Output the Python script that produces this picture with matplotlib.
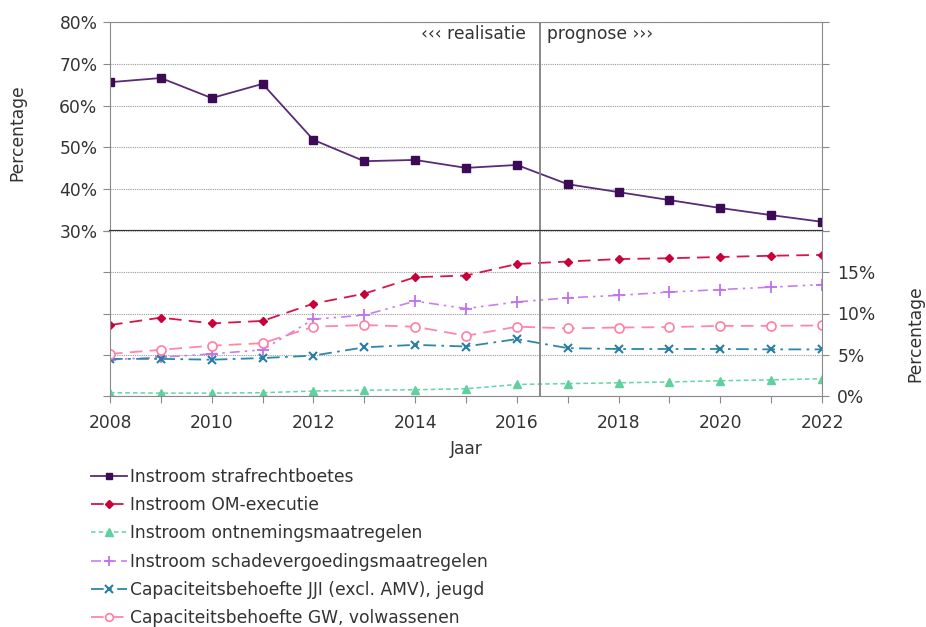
import matplotlib
matplotlib.use("Agg")
import matplotlib.pyplot as plt
from matplotlib.ticker import FuncFormatter, MultipleLocator

plt.rcParams['font.family'] = ['DejaVu Sans']

years = list(range(2008, 2023))

strafrechtboetes = [65.6, 66.6, 61.8, 65.2, 51.8, 46.7, 47.0, 45.1, 45.8,
                    41.2, 39.3, 37.4, 35.5, 33.8, 32.2]
om_executie = [8.6, 9.5, 8.8, 9.1, 11.2, 12.4, 14.4, 14.6, 16.0,
               16.3, 16.6, 16.7, 16.85, 17.0, 17.1]
ontneming = [0.4, 0.35, 0.35, 0.4, 0.6, 0.7, 0.76, 0.88, 1.4,
             1.5, 1.6, 1.7, 1.85, 1.95, 2.1]
schadevergoeding = [4.4, 4.7, 5.1, 5.6, 9.3, 9.8, 11.5, 10.6, 11.4,
                    11.9, 12.2, 12.6, 12.9, 13.2, 13.5]
jji_jeugd = [4.5, 4.5, 4.4, 4.6, 4.9, 5.9, 6.2, 6.0, 6.9,
             5.8, 5.7, 5.7, 5.7, 5.65, 5.65]
gw_volwassenen = [5.1, 5.6, 6.1, 6.4, 8.4, 8.6, 8.4, 7.3, 8.4,
                  8.2, 8.3, 8.35, 8.5, 8.5, 8.55]

labels = [
    "Instroom strafrechtboetes",
    "Instroom OM-executie",
    "Instroom ontnemingsmaatregelen",
    "Instroom schadevergoedingsmaatregelen",
    "Capaciteitsbehoefte JJI (excl. AMV), jeugd",
    "Capaciteitsbehoefte GW, volwassenen",
]

split_year = 2016.45
txt = '#333333'
spine_c = '#8a8a8a'
fs = 12.3

fig = plt.figure(figsize=(9.26, 6.27), dpi=100)
W, H = 926, 627
x0, x1 = 110, 822
ax_top = fig.add_axes([x0 / W, 1 - 231 / H, (x1 - x0) / W, (231 - 22) / H])
ax_bot = fig.add_axes([x0 / W, 1 - 396 / H, (x1 - x0) / W, (396 - 231) / H])

pct = FuncFormatter(lambda v, p: f"{v:.0f}%")

# --- upper panel: 30%-80% ---
h1, = ax_top.plot(years, strafrechtboetes, color='#5a2a78', lw=1.3,
                  marker='s', ms=5.5, mfc='#3d0a55', mec='#3d0a55')
ax_top.set_xlim(2008, 2022)
ax_top.set_ylim(30, 80)
ax_top.yaxis.set_major_locator(MultipleLocator(10))
ax_top.yaxis.set_major_formatter(pct)
ax_top.tick_params(axis='y', which='both', direction='out', length=5,
                   color=spine_c, labelsize=fs, labelcolor=txt,
                   right=True, labelright=False, pad=4)
ax_top.tick_params(axis='x', bottom=False, labelbottom=False)
ax_top.grid(axis='y', color='#9a9a9a', ls=(0, (1, 1)), lw=0.8)
for s in ('left', 'right', 'top'):
    ax_top.spines[s].set_color(spine_c)
ax_top.spines['bottom'].set_color('#333333')
ax_top.spines['bottom'].set_linewidth(1.6)
ax_top.set_ylabel("Percentage", fontsize=fs, color=txt, labelpad=24)
ax_top.yaxis.label.set_y(0.47)
ax_top.axvline(split_year, color='#808080', lw=1.3)
ax_top.text(split_year - 0.27, 77.2, "‹‹‹ realisatie", ha='right', va='center',
            fontsize=fs, color=txt)
ax_top.text(split_year + 0.15, 77.2, "prognose ›››", ha='left', va='center',
            fontsize=fs, color=txt)

# --- lower panel: 0%-20% ---
h2, = ax_bot.plot(years, om_executie, color='#d6154a', lw=1.3,
                  ls=(0, (7, 4)), marker='D', ms=4.5, mfc='#c8003a', mec='#c8003a')
h3, = ax_bot.plot(years, ontneming, color='#62d6a4', lw=1.1,
                  ls=(0, (3, 2)), marker='^', ms=6, mfc='#5fd09e', mec='#5fd09e')
h4, = ax_bot.plot(years, schadevergoeding, color='#c77ff0', lw=1.2,
                  ls=(0, (6, 3, 1.5, 3, 1.5, 3)), marker='+', ms=8, mew=1.3,
                  mec='#c070ee')
h5, = ax_bot.plot(years, jji_jeugd, color='#2f86aa', lw=1.3,
                  ls=(0, (7, 3, 1.5, 3)), marker='x', ms=6, mew=1.5,
                  mec='#2a7ea2')
h6, = ax_bot.plot(years, gw_volwassenen, color='#ff86a8', lw=1.3,
                  ls=(0, (7, 4)), marker='o', ms=6.5, mfc='white',
                  mec='#ff7fa3', mew=1.2)
ax_bot.set_xlim(2008, 2022)
ax_bot.set_ylim(0, 20)
ax_bot.set_yticks([0, 5, 10, 15, 20])
ax_bot.yaxis.set_major_formatter(
    FuncFormatter(lambda v, p: "" if v >= 20 else f"{v:.0f}%"))
ax_bot.tick_params(axis='y', direction='out', length=5, color=spine_c,
                   labelsize=fs, labelcolor=txt, left=True, right=True,
                   labelleft=False, labelright=True, pad=6)
ax_bot.set_xticks(years)
ax_bot.set_xticklabels([str(y) if y % 2 == 0 else "" for y in years])
ax_bot.tick_params(axis='x', direction='out', length=5, color=spine_c,
                   labelsize=fs, labelcolor=txt, pad=8)
ax_bot.grid(axis='y', color='#9a9a9a', ls=(0, (1, 1)), lw=0.8)
for s in ('left', 'right', 'bottom'):
    ax_bot.spines[s].set_color(spine_c)
ax_bot.spines['top'].set_visible(False)
ax_bot.axvline(split_year, color='#808080', lw=1.3)
ax_bot.set_xlabel("Jaar", fontsize=fs, color=txt, labelpad=6)
ax_bot.yaxis.set_label_position('right')
ax_bot.set_ylabel("Percentage", fontsize=fs, color=txt, labelpad=22)
ax_bot.yaxis.label.set_y(0.38)

fig.legend([h1, h2, h3, h4, h5, h6], labels, loc='upper left',
           bbox_to_anchor=(84 / W, 1 - 461 / H), frameon=False,
           fontsize=fs, labelcolor=txt, handlelength=2.1, handletextpad=0.2,
           labelspacing=0.6, borderaxespad=0, markerscale=0.85)

fig.savefig("out.png", dpi=100, facecolor='white')
